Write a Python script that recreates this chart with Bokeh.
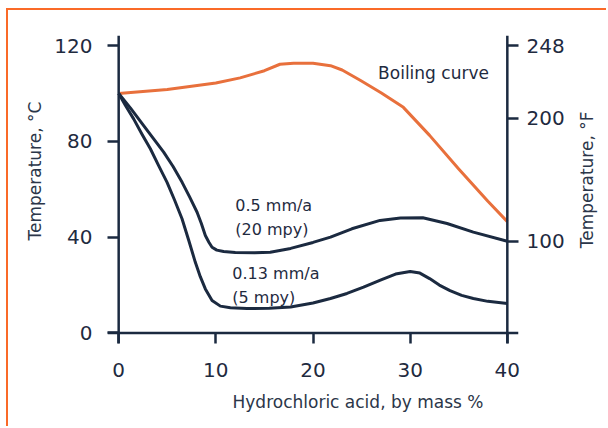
import math
from bokeh.plotting import figure
from bokeh.layouts import row
from bokeh.models import Span, Title, FixedTicker, Range1d, LinearAxis
from bokeh.core.properties import value
from bokeh.embed import file_html
from bokeh.resources import INLINE

# ---- data ----
boil_x = [0, 2.5, 5, 7.5, 10, 12.5, 15, 16.6, 18, 20, 21.8, 23, 24.9, 27, 29.3, 32, 35, 38, 40]
boil_t = [100, 100.8, 101.7, 103, 104.4, 106.5, 109.5, 112.2, 112.6, 112.6, 111.6, 109.8, 105.4, 100.3, 94.2, 82.5, 68.5, 55, 46.5]

c05_x = [0, 1.2, 2.57, 3.6, 4.63, 5.6, 6.53, 7.3, 8.07, 8.5, 8.92, 9.3, 9.61, 10.1, 10.8, 12, 14, 15.6, 17.7, 20, 21.8, 24, 26.9, 29, 31.3, 33.8, 36.5, 40]
c05_t = [100, 94, 86.6, 81, 75.5, 69.5, 62.9, 56.8, 50.4, 45.8, 40.7, 37.8, 35.8, 34.6, 34.0, 33.6, 33.5, 33.7, 35.3, 37.8, 40, 43.5, 47, 48, 48.1, 45.7, 42.1, 38.3]

c013_x = [0, 0.7, 1.54, 2.4, 3.26, 4.1, 4.98, 5.75, 6.52, 7.2, 7.89, 8.4, 8.92, 9.61, 10.47, 11.5, 13.2, 15.5, 17.7, 20, 21.8, 23.5, 25.2, 27, 28.5, 30, 31, 32, 33, 34.1, 35.3, 36.5, 38, 40]
c013_t = [100, 95, 89.4, 83, 76.9, 70, 62.9, 55.5, 47.7, 38.8, 29.5, 23.5, 18.4, 13.6, 11.2, 10.5, 10.2, 10.3, 10.8, 12.5, 14.4, 16.5, 19.1, 22.2, 24.6, 25.7, 25.0, 22.7, 20.0, 17.7, 15.7, 14.4, 13.2, 12.3]

x_ticks = [0, 10, 20, 30, 40]
c_ticks = [0, 40, 80, 120]
f_tick_pos = [38.3, 89.6, 120.0]
f_tick_labels = ["100", "200", "248"]

ann_x = [26.7, 12.0, 12.0, 11.7, 11.7]
ann_y = [108.7, 53.2, 43.2, 24.8, 14.8]
ann_text = ["Boiling curve", "0.5 mm/a", "(20 mpy)", "0.13 mm/a", "(5 mpy)"]
ann_size = ["17px", "16px", "16px", "16px", "16px"]

NAVY = "#1b2a40"
ORANGE = "#e8703c"
TEXT = "#1f2b3f"
TITLE = "#2b3649"
FONT = "DejaVu Sans"

p = figure(width=562, height=416, output_backend="svg", toolbar_location=None,
           x_range=Range1d(-1.15, 41.15), y_range=Range1d(-4.4, 124.2),
           min_border_left=99, min_border_right=52, min_border_top=25, min_border_bottom=83)
p.grid.visible = False
p.outline_line_color = None
p.background_fill_color = "white"
p.border_fill_color = "white"

right = LinearAxis()
p.add_layout(right, "right")

for ax in [p.xaxis[0], p.yaxis[0], right]:
    ax.axis_line_color = None
    ax.major_tick_in = 11
    ax.major_tick_out = 0
    ax.minor_tick_line_color = None
    ax.major_tick_line_color = NAVY
    ax.major_tick_line_width = 2.5
    ax.major_label_text_font = FONT
    ax.major_label_text_font_size = "20px"
    ax.major_label_text_color = TEXT

p.xaxis[0].ticker = FixedTicker(ticks=x_ticks)
p.xaxis[0].major_label_standoff = 19
p.yaxis[0].ticker = FixedTicker(ticks=c_ticks)
p.yaxis[0].major_label_standoff = 15
right.ticker = FixedTicker(ticks=f_tick_pos)
right.major_label_overrides = dict(zip(f_tick_pos, f_tick_labels))
right.major_label_standoff = 8

for loc, dim in [(0, "width"), (0, "height"), (40, "height")]:
    p.add_layout(Span(location=loc, dimension=dim, line_color=NAVY, line_width=2.5))

p.line(boil_x, boil_t, line_color=ORANGE, line_width=3, line_join="round")
p.line(c05_x, c05_t, line_color=NAVY, line_width=3, line_join="round")
p.line(c013_x, c013_t, line_color=NAVY, line_width=3, line_join="round")

p.text(x=ann_x, y=ann_y, text=ann_text, text_font=value(FONT), text_font_size=ann_size,
       text_color=TEXT, text_baseline="middle", text_align="left")

tstyle = dict(text_font=FONT, text_font_size="17px", text_font_style="normal",
              text_color=TITLE, align="left")
p.add_layout(Title(text="Hydrochloric acid, by mass %", offset=125, standoff=21, **tstyle), "below")
p.add_layout(Title(text="Temperature, °C", offset=103, standoff=13, **tstyle), "left")

# narrow side panel holding the right-hand axis title (reads bottom to top)
p2 = figure(width=36, height=416, output_backend="svg", toolbar_location=None,
            x_range=Range1d(0, 36), y_range=Range1d(416, 0),
            x_axis_location=None, y_axis_location=None, min_border=0)
p2.grid.visible = False
p2.outline_line_color = None
p2.background_fill_color = "white"
p2.border_fill_color = "white"
p2.text(x=[16], y=[195], text=["Temperature, °F"], angle=math.pi / 2,
        text_font=value(FONT), text_font_size="17px", text_color=TITLE,
        text_align="center", text_baseline="middle")

lay = row(p, p2)
lay.styles = {"margin-left": "6px", "margin-top": "8px",
              "border-left": "2px solid #fa6a28", "border-top": "2px solid #fa6a28"}

open("out.html", "w").write(file_html(lay, INLINE))
